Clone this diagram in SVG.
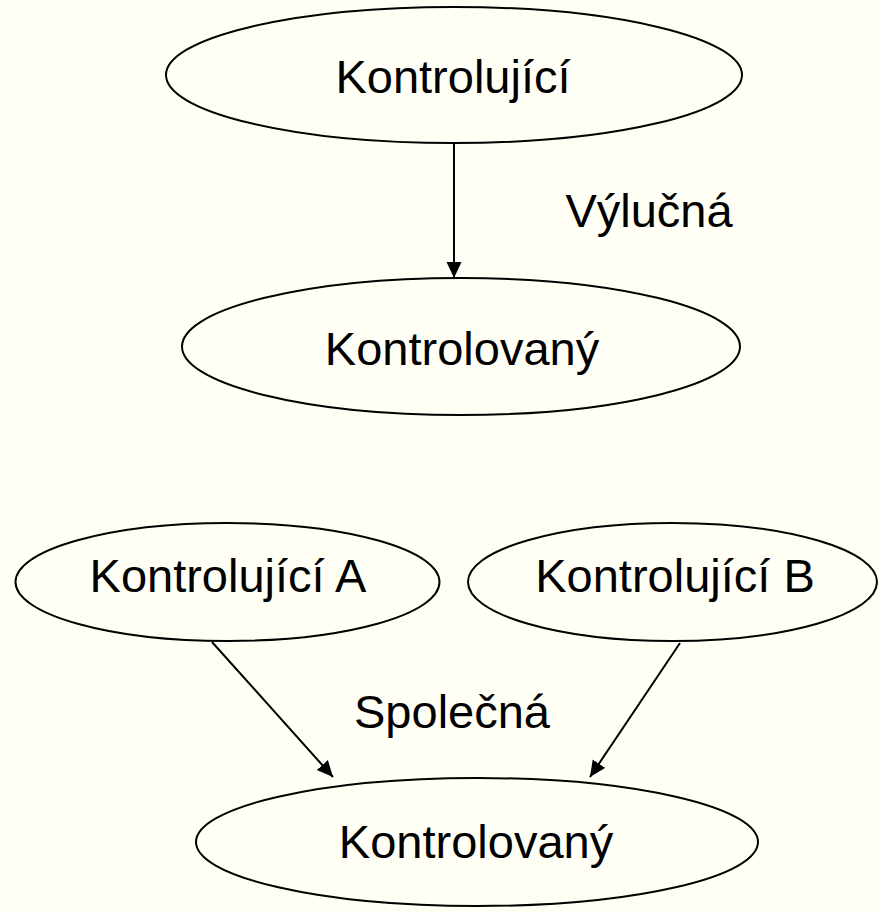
<svg xmlns="http://www.w3.org/2000/svg" width="879" height="912" viewBox="0 0 879 912">
<style>
.node ellipse{fill:#FFFFF5;stroke:#000;stroke-width:2}
text{font-family:"Liberation Sans",Arial,sans-serif;font-size:47px;fill:#000;text-anchor:middle}
.conn line{stroke:#000;stroke-width:2;marker-end:url(#ah)}
</style>
<defs>
<marker id="ah" markerUnits="userSpaceOnUse" markerWidth="16" markerHeight="16" viewBox="0 0 16 16" refX="16" refY="8" orient="auto">
<path d="M0,0.5 L16,8 L0,15.5 z" fill="#000"/>
</marker>
</defs>
<rect x="0" y="0" width="879" height="912" fill="#FFFFF5"/>
<g id="n1" class="node"><ellipse cx="454" cy="75" rx="288" ry="68"/><text x="453" y="93">Kontrolující</text></g>
<g id="n2" class="node"><ellipse cx="461" cy="346.5" rx="279" ry="68.5"/><text x="462" y="365">Kontrolovaný</text></g>
<g id="n3" class="node"><ellipse cx="227.5" cy="582" rx="212" ry="59"/><text x="228" y="592">Kontrolující A</text></g>
<g id="n4" class="node"><ellipse cx="672.5" cy="582" rx="204.5" ry="59"/><text x="675" y="592">Kontrolující B</text></g>
<g id="n5" class="node"><ellipse cx="477" cy="842" rx="281" ry="64"/><text x="476" y="858">Kontrolovaný</text></g>
<g id="connectors" class="conn">
<line x1="454" y1="143" x2="454" y2="278"/>
<line x1="212" y1="642" x2="333" y2="777"/>
<line x1="680" y1="643" x2="590" y2="777"/>
</g>
<g id="labels">
<text x="649" y="227">Výlučná</text>
<text x="452" y="728">Společná</text>
</g>
</svg>
